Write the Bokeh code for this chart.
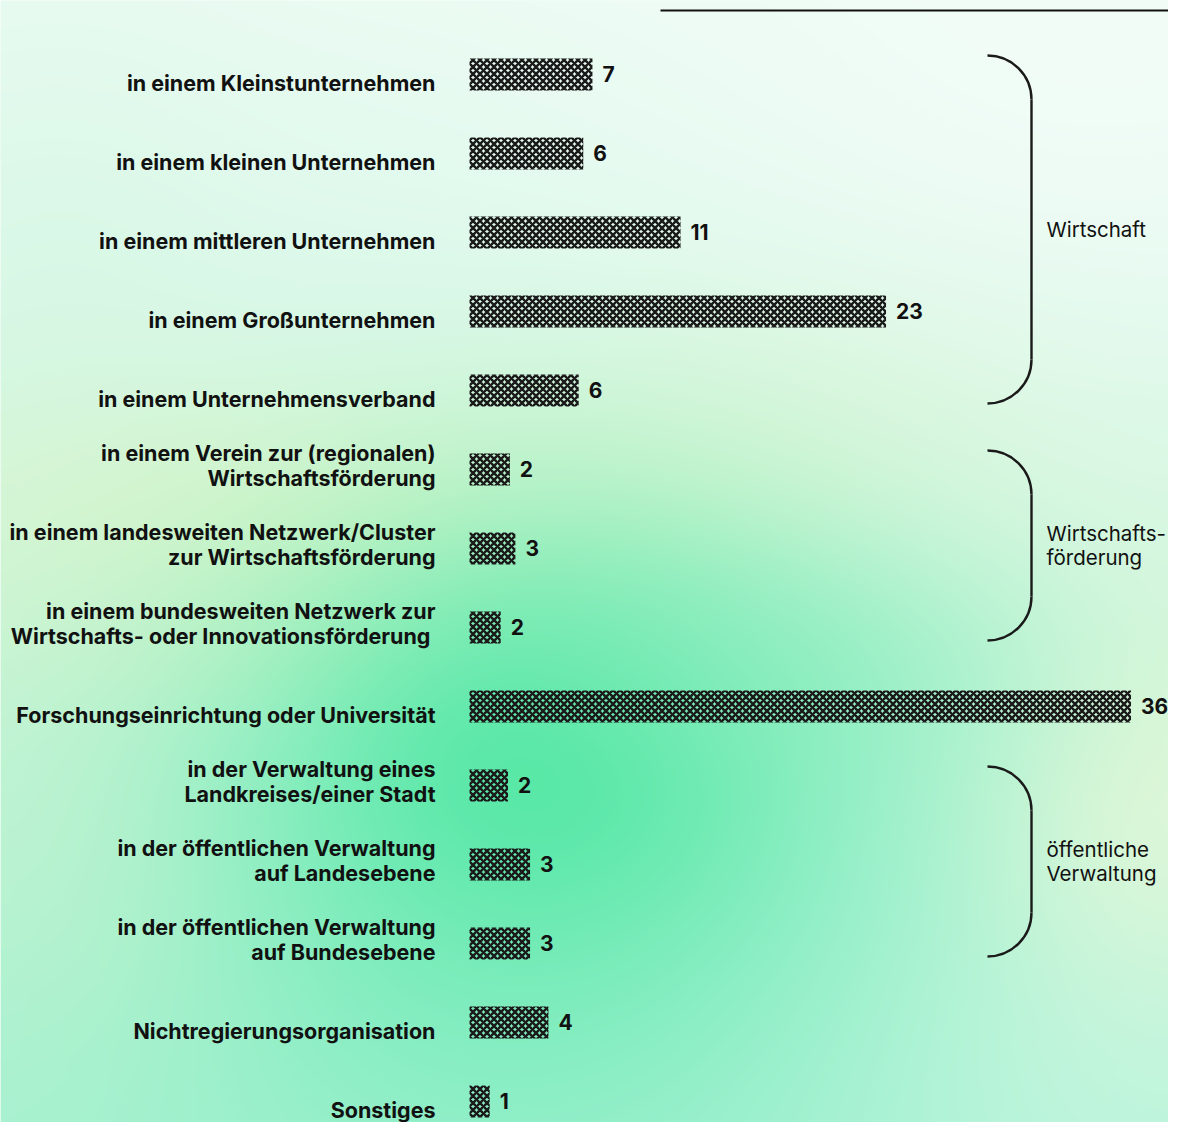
import numpy as np
from bokeh.plotting import figure
from bokeh.models import Range1d, ColumnDataSource
from bokeh.core.properties import value
from bokeh.embed import file_html
from bokeh.resources import INLINE

# ---------------- data ----------------
categories = [
    "in einem Kleinstunternehmen",
    "in einem kleinen Unternehmen",
    "in einem mittleren Unternehmen",
    "in einem Großunternehmen",
    "in einem Unternehmensverband",
    "in einem Verein zur (regionalen)\nWirtschaftsförderung",
    "in einem landesweiten Netzwerk/Cluster\nzur Wirtschaftsförderung",
    "in einem bundesweiten Netzwerk zur\nWirtschafts- oder  Innovationsförderung",
    "Forschungseinrichtung oder Universität",
    "in der Verwaltung eines\nLandkreises/einer Stadt",
    "in der öffentlichen Verwaltung\nauf Landesebene",
    "in der öffentlichen Verwaltung\nauf Bundesebene",
    "Nichtregierungsorganisation",
    "Sonstiges",
]
values = [6.7, 6.2, 11.5, 22.7, 5.95, 2.2, 2.5, 1.7, 36.05, 2.1, 3.3, 3.3, 4.3, 1.1]
value_labels = ["7", "6", "11", "23", "6", "2", "3", "2", "36", "2", "3", "3", "4", "1"]
group_names = ["Wirtschaft", "Wirtschafts-\nförderung", "öffentliche\nVerwaltung"]
group_first = [0, 5, 9]
group_last = [4, 7, 11]

# ---------------- layout ----------------
W, H = 1168, 1122
PPU = 18.35           # pixels per unit
BAR_X0 = 469          # px of value 0
ROW0 = 74             # px of first row centre
ROW_H = 79            # px between rows
BAR_PX = 32

x_start = -BAR_X0 / PPU
x_end = (W - BAR_X0) / PPU
y_top = ROW0 / ROW_H
y_bottom = -(H - ROW0) / ROW_H


def fx(px):
    return x_start + px / PPU


def fy(py):
    return -(py - ROW0) / ROW_H


ypos = [-i for i in range(len(categories))]

p = figure(width=W, height=H, x_range=Range1d(x_start, x_end),
           y_range=Range1d(y_bottom, y_top), output_backend="svg",
           toolbar_location=None, min_border=0, outline_line_color=None)
p.axis.visible = False
p.grid.visible = False
p.border_fill_color = "#eafbf1"
p.background_fill_color = "#eafbf1"

# ---------------- background gradient ----------------
xs = np.arange(0, W, 2) + 1.0
ys = np.arange(0, H, 2) + 1.0
X, Y = np.meshgrid(xs, ys)
t = (Y / H)[..., None]
top_c = np.array([234, 251, 242], float)
bot_c = np.array([178, 243, 214], float)
col = top_c * (1 - t) + bot_c * t


def blend(col, cx, cy, sx, sy, rgb, a):
    al = a * np.exp(-(((X - cx) / sx) ** 2 + ((Y - cy) / sy) ** 2) / 2)
    al = al[..., None]
    return col * (1 - al) + np.array(rgb, float) * al


col = blend(col, 1100, 60, 350, 250, (246, 253, 250), 0.7)
col = blend(col, 60, 330, 120, 200, (214, 247, 226), 0.5)
col = blend(col, 520, 1030, 430, 200, (138, 238, 198), 0.8)
col = blend(col, 300, 520, 320, 90, (224, 246, 202), 0.8)
col = blend(col, 250, 640, 200, 60, (216, 245, 200), 0.5)
col = blend(col, 760, 450, 220, 110, (220, 246, 212), 0.55)
col = blend(col, 1160, 830, 130, 190, (234, 248, 216), 0.8)
col = blend(col, 70, 800, 150, 200, (200, 243, 208), 0.6)
col = blend(col, 540, 760, 210, 170, (80, 231, 163), 0.95)
col = blend(col, 760, 660, 200, 90, (130, 236, 185), 0.45)
col = blend(col, 1140, 1110, 240, 150, (196, 246, 226), 0.6)
col = np.clip(col, 0, 255).astype(np.uint8)

hh, ww = X.shape
img = np.empty((hh, ww), dtype=np.uint32)
view = img.view(dtype=np.uint8).reshape((hh, ww, 4))
view[..., :3] = col
view[..., 3] = 255
p.image_rgba(image=[np.flipud(img)], x=x_start, y=y_bottom,
             dw=x_end - x_start, dh=y_top - y_bottom)

# ---------------- bars ----------------
src = ColumnDataSource(dict(y=ypos, v=values, lab=value_labels))
p.hbar(y="y", left=0, right="v", height=BAR_PX / ROW_H, source=src,
       fill_alpha=0, line_color=None, hatch_pattern="diagonal_cross",
       hatch_scale=7, hatch_weight=2.5, hatch_color="#1a1a1a")

p.text(x="v", y="y", text="lab", source=src, x_offset=10, y_offset=-1,
       text_baseline="alphabetic", text_align="left",
       text_font=value("Inter"), text_font_style="bold",
       text_font_size=value("21px"), text_color="#111111")

# ---------------- category labels ----------------
lx, ly, lt, loff = [], [], [], []
for i, cat in enumerate(categories):
    lines = cat.split("\n")
    n = len(lines)
    for k, line in enumerate(lines):
        lx.append(0)
        ly.append(ypos[i])
        lt.append(line)
        loff.append(8 - 25 * (n - 1 - k))
p.text(x=lx, y=ly, text=lt, y_offset=loff, x_offset=-34,
       text_align="right", text_baseline="alphabetic",
       text_font=value("Inter"), text_font_style="bold",
       text_font_size=value("21.5px"), text_color="#111111")

# ---------------- braces ----------------
R = 44
K = 0.5523 * R
BX = 1031
for g, name in enumerate(group_names):
    top = ROW0 + ROW_H * group_first[g] - 19
    bot = ROW0 + ROW_H * group_last[g] + 13
    p.bezier(x0=[fx(BX - R), fx(BX)], y0=[fy(top), fy(bot - R)],
             x1=[fx(BX), fx(BX - R)], y1=[fy(top + R), fy(bot)],
             cx0=[fx(BX - R + K), fx(BX)], cy0=[fy(top), fy(bot - R + K)],
             cx1=[fx(BX), fx(BX - R + K)], cy1=[fy(top + R - K), fy(bot)],
             line_color="#1a1a1a", line_width=2.4)
    p.segment(x0=[fx(BX)], y0=[fy(top + R)], x1=[fx(BX)], y1=[fy(bot - R)],
              line_color="#1a1a1a", line_width=2.4)
    mid = (top + bot) / 2
    lines = name.split("\n")
    n = len(lines)
    gy = [fy(mid + 24 * (k - (n - 1) / 2)) for k in range(n)]
    p.text(x=[fx(1046)] * n, y=gy, text=lines, text_align="left",
           text_baseline="alphabetic", text_font=value("Inter"),
           text_font_size=value("20.5px"), text_color="#111111")

# ---------------- top rule ----------------
p.segment(x0=[fx(660)], y0=[fy(10)], x1=[fx(W + 10)], y1=[fy(10)],
          line_color="#111111", line_width=2.2)

open("out.html", "w").write(file_html(p, INLINE))
